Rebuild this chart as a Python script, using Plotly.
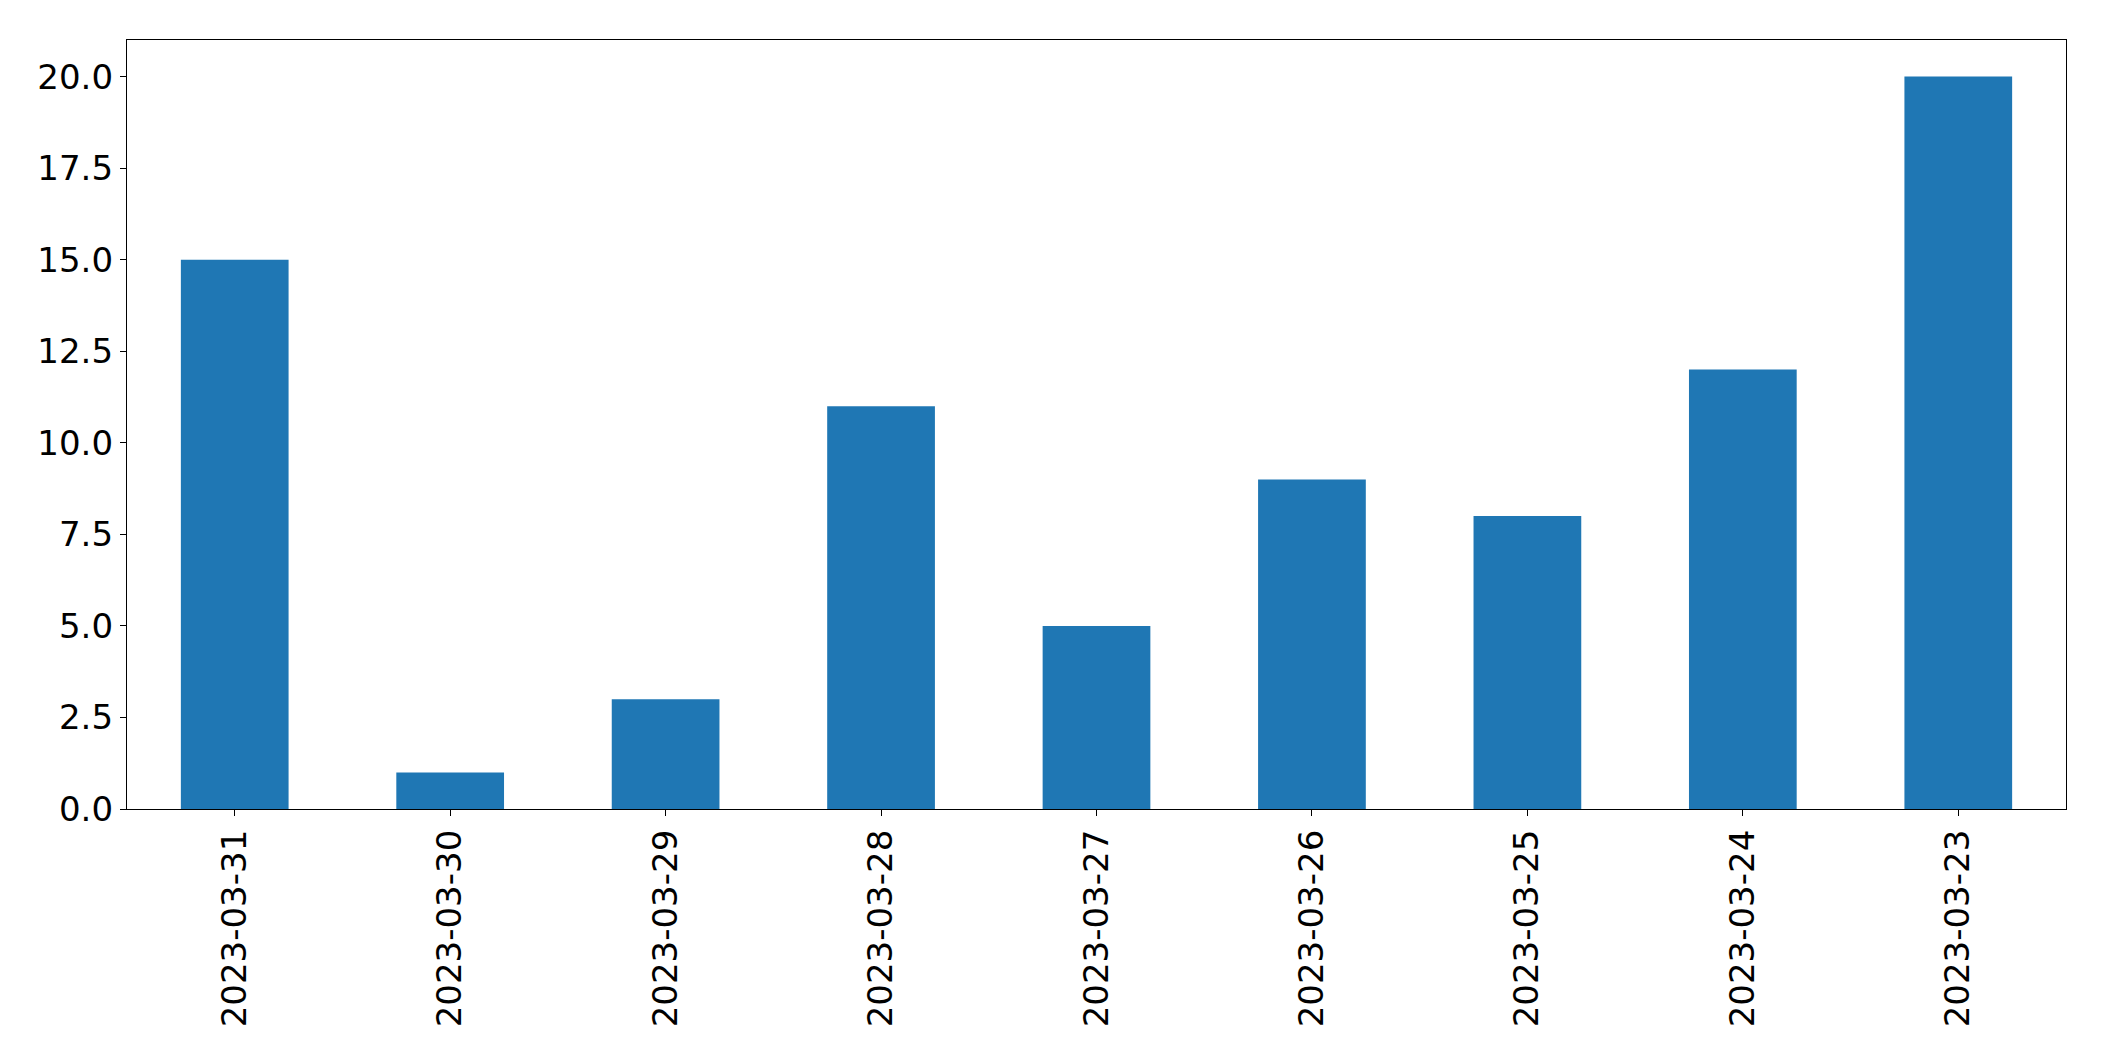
import plotly.graph_objects as go

dates = ["2023-03-31", "2023-03-30", "2023-03-29", "2023-03-28", "2023-03-27",
         "2023-03-26", "2023-03-25", "2023-03-24", "2023-03-23"]
values = [15, 1, 3, 11, 5, 9, 8, 12, 20]
y_ticks = [0, 2.5, 5, 7.5, 10, 12.5, 15, 17.5, 20]
y_tick_labels = ["0.0", "2.5", "5.0", "7.5", "10.0", "12.5", "15.0", "17.5", "20.0"]

fig = go.Figure(go.Bar(x=dates, y=values, marker=dict(color="#1f77b4", line=dict(width=0)), width=0.5))

fig.update_layout(
    width=2096, height=1053,
    margin=dict(l=119, r=38, t=32, b=252),
    paper_bgcolor="white", plot_bgcolor="white",
    font=dict(family="DejaVu Sans", size=34, color="black"),
    showlegend=False,
)
fig.update_xaxes(
    type="category", range=[-0.5, 8.5], tickangle=-90,
    showline=True, linecolor="black", linewidth=1.3, mirror=True,
    ticks="outside", ticklen=6, tickwidth=1.3, tickcolor="black",
    showgrid=False, zeroline=False, tickfont=dict(size=34),
)
fig.update_yaxes(
    range=[0, 21], tickvals=y_ticks, ticktext=y_tick_labels,
    showline=True, linecolor="black", linewidth=1.3, mirror=True,
    ticks="outside", ticklen=6, tickwidth=1.3, tickcolor="black",
    showgrid=False, zeroline=False, tickfont=dict(size=34),
)

fig.write_html("out.html")
